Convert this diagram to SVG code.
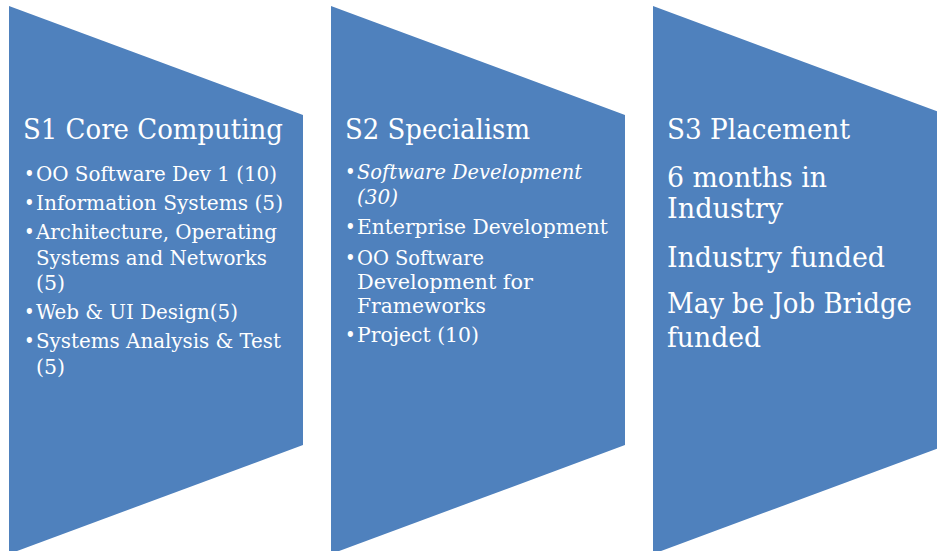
<svg xmlns="http://www.w3.org/2000/svg" width="937" height="551" viewBox="0 0 937 551">
  <style>
    .stage { fill: #4F81BD; }
    text { fill: #FFFFFF; font-family: "DejaVu Serif Condensed", "DejaVu Serif", "Liberation Serif", serif; font-stretch: condensed; }
    .title { font-size: 28px; }
    .item { font-size: 20px; }
    .item2 { font-size: 19.5px; }
    .big { font-size: 27.5px; }
    .dot { font-size: 20px; }
    .it { font-style: italic; }
  </style>
  <rect width="937" height="551" fill="#FFFFFF"/>

  <!-- Stage 1 -->
  <g id="s1-core-computing">
    <polygon class="stage" points="9,6 303,115 303,445 9,554"/>
    <text class="title" x="23" y="139" textLength="260" lengthAdjust="spacingAndGlyphs">S1 Core Computing</text>
    <text class="dot" x="24" y="181">•</text>
    <text class="item" x="36" y="181" textLength="241" lengthAdjust="spacingAndGlyphs">OO Software Dev 1 (10)</text>
    <text class="dot" x="24" y="210">•</text>
    <text class="item" x="36" y="210" textLength="247" lengthAdjust="spacingAndGlyphs">Information Systems (5)</text>
    <text class="dot" x="24" y="239">•</text>
    <text class="item" x="36" y="239" textLength="241" lengthAdjust="spacingAndGlyphs">Architecture, Operating</text>
    <text class="item" x="36" y="265" textLength="231" lengthAdjust="spacingAndGlyphs">Systems and Networks</text>
    <text class="item" x="36" y="290" textLength="29" lengthAdjust="spacingAndGlyphs">(5)</text>
    <text class="dot" x="24" y="319">•</text>
    <text class="item" x="36" y="319" textLength="202" lengthAdjust="spacingAndGlyphs">Web &amp; UI Design(5)</text>
    <text class="dot" x="24" y="348">•</text>
    <text class="item" x="36" y="348" textLength="245" lengthAdjust="spacingAndGlyphs">Systems Analysis &amp; Test</text>
    <text class="item" x="36" y="374" textLength="29" lengthAdjust="spacingAndGlyphs">(5)</text>
  </g>

  <!-- Stage 2 -->
  <g id="s2-specialism">
    <polygon class="stage" points="331,6 625,115 625,445 331,554"/>
    <text class="title" x="345" y="139" textLength="185" lengthAdjust="spacingAndGlyphs">S2 Specialism</text>
    <text class="dot" x="345" y="179">•</text>
    <text class="item2 it" x="357" y="179" textLength="225" lengthAdjust="spacingAndGlyphs">Software Development</text>
    <text class="item2 it" x="357" y="204" textLength="41" lengthAdjust="spacingAndGlyphs">(30)</text>
    <text class="dot" x="345" y="234">•</text>
    <text class="item2" x="357" y="234" textLength="251" lengthAdjust="spacingAndGlyphs">Enterprise Development</text>
    <text class="dot" x="345" y="265">•</text>
    <text class="item2" x="357" y="265" textLength="127" lengthAdjust="spacingAndGlyphs">OO Software</text>
    <text class="item2" x="357" y="289" textLength="176" lengthAdjust="spacingAndGlyphs">Development  for</text>
    <text class="item2" x="357" y="313" textLength="129" lengthAdjust="spacingAndGlyphs">Frameworks</text>
    <text class="dot" x="345" y="342">•</text>
    <text class="item2" x="357" y="342" textLength="122" lengthAdjust="spacingAndGlyphs">Project (10)</text>
  </g>

  <!-- Stage 3 -->
  <g id="s3-placement">
    <polygon class="stage" points="653,6 947,115 947,445 653,554"/>
    <text class="title" x="667" y="139" textLength="183" lengthAdjust="spacingAndGlyphs">S3 Placement</text>
    <text class="big" x="667" y="187" textLength="160" lengthAdjust="spacingAndGlyphs">6 months in</text>
    <text class="big" x="667" y="218" textLength="116" lengthAdjust="spacingAndGlyphs">Industry</text>
    <text class="big" x="667" y="267" textLength="218" lengthAdjust="spacingAndGlyphs">Industry funded</text>
    <text class="big" x="667" y="313" textLength="245" lengthAdjust="spacingAndGlyphs">May be Job Bridge</text>
    <text class="big" x="667" y="347" textLength="94" lengthAdjust="spacingAndGlyphs">funded</text>
  </g>

  <!-- no connectors between stages -->
  <g id="connectors"/>
</svg>
